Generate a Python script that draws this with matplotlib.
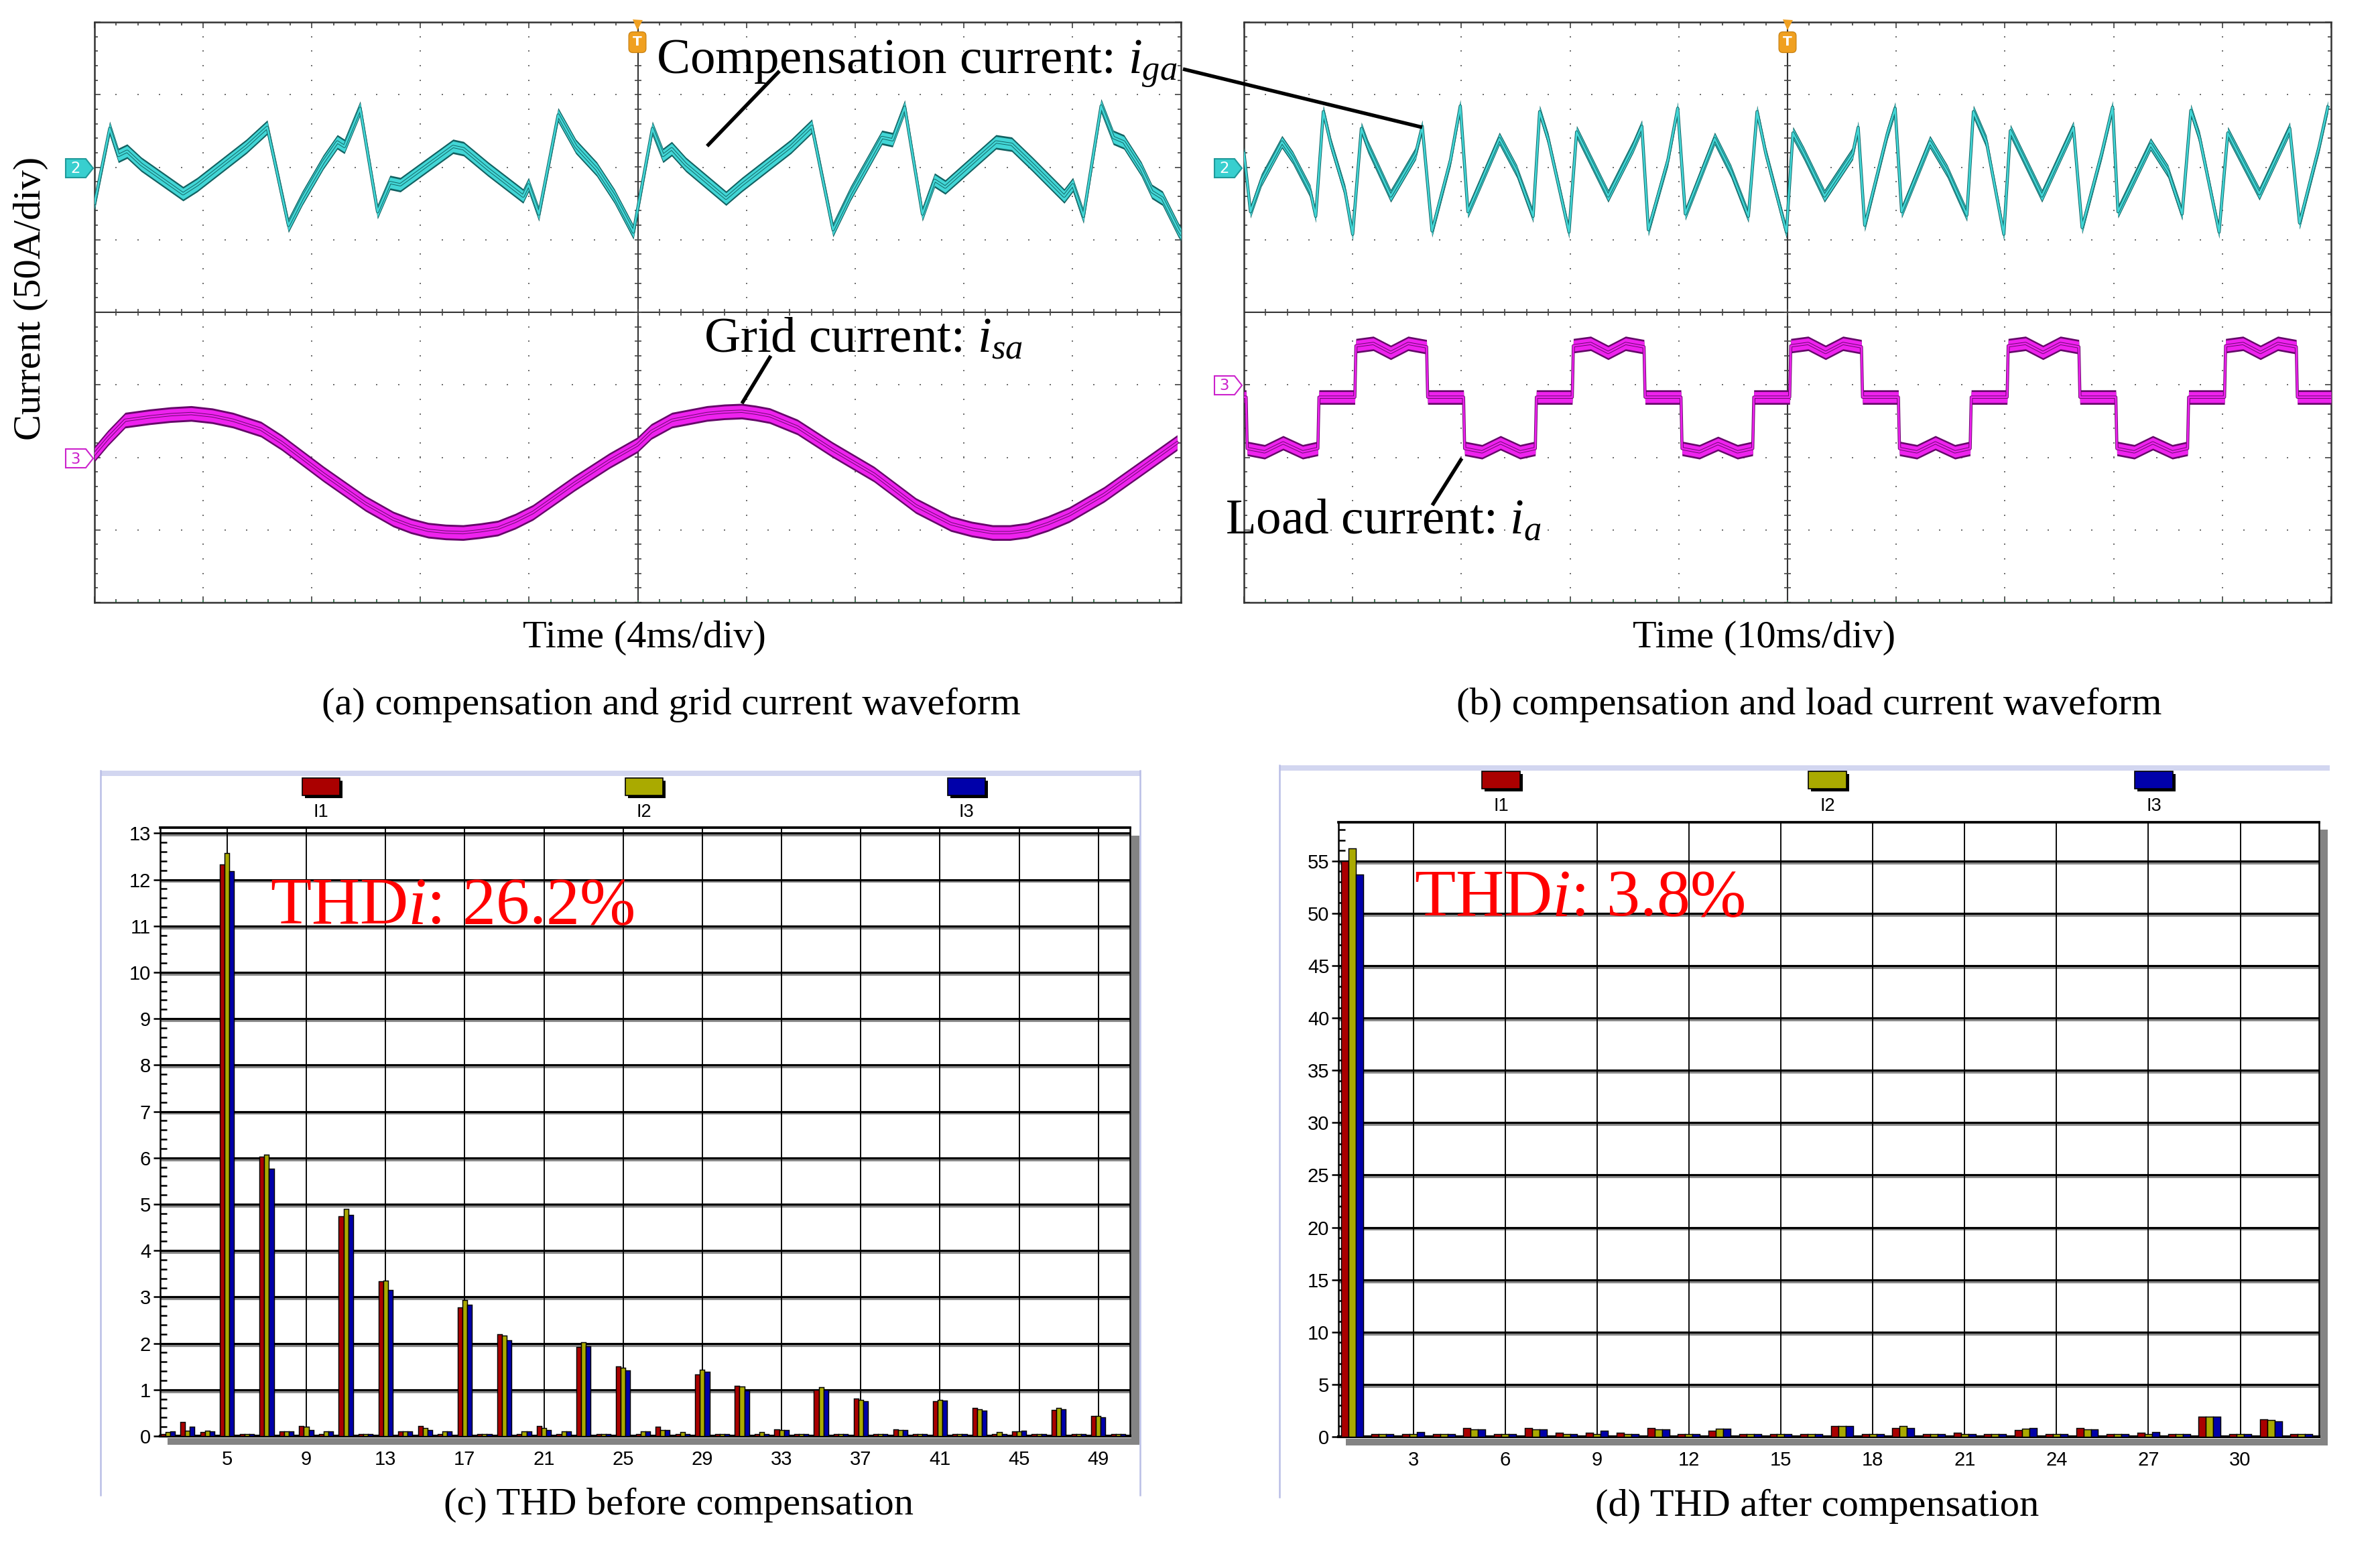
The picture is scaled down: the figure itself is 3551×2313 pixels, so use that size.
import numpy as np
import matplotlib
matplotlib.use("Agg")
import matplotlib.pyplot as plt
from matplotlib.patches import Rectangle, Polygon
from matplotlib.ticker import MultipleLocator
import matplotlib.patheffects as pe

# ---------------------------------------------------------------- data
# (a) 4 ms/div, 50 A/div : compensation current i_ga (time in ms, current in A)
comp_a_t = [0.0, 0.56, 0.88, 1.2, 1.72, 3.26, 3.78, 5.59, 6.36, 7.14, 7.65, 8.42, 8.94, 9.2, 9.78,
            10.42, 10.88, 11.26, 13.2, 13.59, 14.49, 15.78, 15.98, 16.36, 17.07, 17.72, 18.49, 19.14,
            19.84, 20.54, 20.93, 21.25, 21.77, 23.25, 23.83, 25.64, 26.41, 27.19, 27.83, 28.48, 28.99,
            29.38, 29.83, 30.48, 30.93, 31.32, 33.19, 33.77, 34.54, 35.7, 36.02, 36.41, 37.06, 37.51,
            37.9, 38.54, 38.93, 39.32, 39.9, 40.0]
comp_a_i = [-25.0, 26.7, 8.1, 11.0, 2.0, -18.3, -12.1, 14.3, 27.5, -40.1, -21.4, 3.4, 17.4, 14.3, 40.6,
            -30.7, -10.6, -12.1, 14.3, 12.7, -1.3, -19.9, -12.1, -32.3, 36.0, 14.3, -1.3, -19.9,
            -44.7, 26.7, 8.1, 12.7, 1.9, -21.4, -12.1, 14.3, 28.2, -43.1, -18.3, 3.4, 20.5,
            18.9, 41.4, -32.3, -9.0, -13.7, 17.4, 15.8, 1.9, -19.9, -12.1, -33.8, 42.2, 20.5,
            17.4, -1.3, -16.8, -21.4, -43.1, -46.0]

# (a) grid current i_sa
grid_a_t = [0.0, 0.49, 1.13, 2.03, 2.8, 3.56, 4.34, 5.1, 6.13, 6.9, 8.44, 9.98, 11.0, 11.65, 12.29,
            12.93, 13.57, 14.21, 14.85, 15.49, 16.14, 17.68, 18.96, 19.98, 20.5, 21.26, 22.55, 23.19,
            23.83, 24.34, 24.86, 25.88, 27.16, 28.7, 30.24, 31.53, 32.3, 33.07, 33.7, 34.35, 35.1,
            35.89, 37.17, 38.46, 39.86]
grid_a_i = [2.3, 13.2, 25.6, 27.9, 29.4, 30.2, 28.6, 25.6, 19.4, 10.1, -11.6, -31.8, -42.6, -47.2, -50.3,
            -51.5, -51.9, -50.6, -48.8, -44.1, -38.0, -17.8, -2.3, 8.5, 17.8, 25.6, 30.2, 31.3,
            31.8, 30.5, 28.7, 20.9, 5.4, -11.6, -33.3, -45.7, -49.5, -51.9, -51.9, -50.3, -45.7,
            -39.5, -25.6, -8.5, 10.1]

# (b) 10 ms/div : compensation current i_ga
comp_b_t = [0.0, 0.6, 1.6, 3.5, 4.5, 6.1, 6.6, 7.3, 8.0, 9.3, 10.0, 10.8, 11.4, 13.5, 15.8, 16.4, 17.3,
            19.0, 19.9, 20.6, 23.5, 25.1, 26.6, 27.2, 28.0, 29.9, 30.6, 33.5, 35.8, 36.6, 37.2, 39.0,
            39.9, 40.6, 43.3, 44.8, 46.4, 47.2, 48.0, 49.9, 50.5, 51.5, 53.4, 56.0, 56.5, 57.1, 59.2,
            59.9, 60.5, 63.1, 64.7, 66.5, 67.1, 68.3, 69.9, 70.5, 73.4, 76.3, 77.1, 78.9, 79.9, 80.4,
            83.4, 85.0, 86.3, 87.1, 87.9, 89.7, 90.5, 93.4, 96.2, 97.1, 98.9, 99.7]
comp_b_i = [10.0, -30.7, -9.0, 17.4, 6.5, -16.7, -33.8, 38.3, 15.8, -16.7, -46.2, 26.7, 14.3, -19.8, 9.6,
            28.2, -43.9, 5.0, 42.2, -30.7, 19.7, -2.8, -33.8, 38.3, 18.9, -44.7, 24.3, -19.8, 14.3,
            28.2, -43.1, 5.0, 40.6, -32.2, 19.7, -2.8, -33.8, 38.3, 9.6, -44.7, 23.6, 9.6, -19.8, 9.6,
            27.4, -40.0, 23.6, 40.6, -30.7, 17.4, -2.8, -33.0, 38.3, 17.4, -46.2, 25.1, -19.8, 27.4,
            -41.6, 9.6, 41.4, -30.7, 15.8, -2.8, -32.2, 39.1, 20.5, -44.7, 23.6, -18.3, 26.7, -38.4,
            14.3, 41.4]

# (b) load current i_a
load_b_t = [0.0, 0.2, 0.3, 1.9, 3.6, 5.4, 6.8, 6.9, 10.2, 10.3, 11.9, 13.5, 15.1, 16.8, 16.9, 20.2,
            20.3, 21.9, 23.6, 25.4, 26.8, 26.9, 30.2, 30.3, 31.9, 33.5, 35.1, 36.8, 36.9, 40.2,
            40.3, 41.9, 43.6, 45.4, 46.8, 46.9, 50.2, 50.3, 51.9, 53.5, 55.1, 56.8, 56.9, 60.2,
            60.3, 61.9, 63.6, 65.4, 66.8, 66.9, 70.2, 70.3, 71.9, 73.5, 75.1, 76.8, 76.9, 80.2,
            80.3, 81.9, 83.6, 85.4, 86.8, 86.9, 90.2, 90.3, 91.9, 93.5, 95.1, 96.8, 96.9, 100.0]
load_b_i = [-8.5, -8.5, -43.9, -46.2, -40.0, -46.2, -43.9, -8.5, -8.5, 26.9, 28.5, 22.3, 28.5, 26.2, -8.5, -8.5,
            -43.9, -46.2, -40.0, -46.2, -43.9, -8.5, -8.5, 26.9, 28.5, 22.3, 28.5, 26.2, -8.5, -8.5,
            -43.9, -46.2, -40.5, -46.2, -43.9, -8.5, -8.5, 26.9, 28.5, 22.3, 28.5, 26.2, -8.5, -8.5,
            -43.9, -46.2, -40.0, -46.2, -43.9, -8.5, -8.5, 26.9, 28.5, 22.3, 28.5, 26.2, -8.5, -8.5,
            -43.9, -46.2, -40.0, -46.2, -43.9, -8.5, -8.5, 26.9, 28.5, 22.3, 28.5, 26.2, -8.5, -8.5]

# (c) harmonic spectrum before compensation, orders 2..50 (%)
before_orders = list(range(2, 51))
before_I1 = [0.05, 0.30, 0.08, 12.33, 0.05, 6.02, 0.10, 0.22, 0.05, 4.74, 0.05, 3.34, 0.10, 0.22, 0.05,
             2.78, 0.05, 2.20, 0.05, 0.22, 0.05, 1.92, 0.05, 1.50, 0.05, 0.20, 0.05, 1.33, 0.05, 1.08,
             0.05, 0.15, 0.05, 1.00, 0.05, 0.81, 0.05, 0.15, 0.05, 0.75, 0.05, 0.61, 0.05, 0.10, 0.05,
             0.57, 0.05, 0.43, 0.05]
before_I2 = [0.08, 0.12, 0.12, 12.57, 0.05, 6.07, 0.10, 0.20, 0.10, 4.90, 0.05, 3.35, 0.10, 0.17, 0.10,
             2.93, 0.05, 2.17, 0.10, 0.17, 0.10, 2.03, 0.05, 1.47, 0.10, 0.13, 0.08, 1.43, 0.05, 1.07,
             0.08, 0.13, 0.05, 1.05, 0.05, 0.78, 0.05, 0.13, 0.05, 0.78, 0.05, 0.58, 0.08, 0.10, 0.05,
             0.60, 0.05, 0.43, 0.05]
before_I3 = [0.10, 0.20, 0.10, 12.18, 0.05, 5.76, 0.10, 0.13, 0.10, 4.77, 0.05, 3.15, 0.10, 0.13, 0.10,
             2.83, 0.05, 2.07, 0.10, 0.13, 0.10, 1.93, 0.05, 1.41, 0.10, 0.13, 0.05, 1.38, 0.05, 0.98,
             0.05, 0.13, 0.05, 1.00, 0.05, 0.75, 0.05, 0.13, 0.05, 0.77, 0.05, 0.55, 0.05, 0.12, 0.05,
             0.58, 0.05, 0.41, 0.05]
before_xticks = [5, 9, 13, 17, 21, 25, 29, 33, 37, 41, 45, 49]
before_yticks = list(range(0, 14))

# (d) harmonic spectrum after compensation, orders 1..32 (%)
after_orders = list(range(1, 33))
after_I1 = [55.0, 0.25, 0.25, 0.25, 0.85, 0.25, 0.85, 0.40, 0.40, 0.40, 0.85, 0.25, 0.60, 0.25, 0.25, 0.25,
            1.00, 0.25, 0.85, 0.25, 0.40, 0.25, 0.65, 0.25, 0.85, 0.25, 0.40, 0.25, 1.95, 0.25, 1.65, 0.25]
after_I2 = [56.2, 0.25, 0.25, 0.25, 0.70, 0.25, 0.70, 0.25, 0.25, 0.25, 0.70, 0.25, 0.75, 0.25, 0.25, 0.25,
            1.05, 0.25, 1.05, 0.25, 0.25, 0.25, 0.80, 0.25, 0.70, 0.25, 0.25, 0.25, 1.95, 0.25, 1.60, 0.25]
after_I3 = [53.7, 0.25, 0.45, 0.25, 0.70, 0.25, 0.70, 0.25, 0.60, 0.25, 0.70, 0.25, 0.75, 0.25, 0.25, 0.25,
            1.05, 0.25, 0.85, 0.25, 0.25, 0.25, 0.85, 0.25, 0.70, 0.25, 0.45, 0.25, 1.95, 0.25, 1.50, 0.25]
after_xticks = [3, 6, 9, 12, 15, 18, 21, 24, 27, 30]
after_yticks = [0, 5, 10, 15, 20, 25, 30, 35, 40, 45, 50, 55]

series_names = ["I1", "I2", "I3"]

# ---------------------------------------------------------------- style
W, H, DPI = 3551, 2313, 300
plt.rcParams['font.family'] = ['Liberation Serif', 'DejaVu Serif']
plt.rcParams['mathtext.fontset'] = 'custom'
plt.rcParams['mathtext.rm'] = 'Liberation Serif'
plt.rcParams['mathtext.it'] = 'Liberation Serif:italic'

RED, OLIVE, BLUE = '#aa0000', '#aaaa00', '#0000aa'
CY_L, CY_D = '#42d6d6', '#126262'
MG_L, MG_D = '#ee22ee', '#66086a'

fig = plt.figure(figsize=(W / DPI, H / DPI), dpi=DPI)


def rect(x0, y0, x1, y1):
    return [x0 / W, 1 - y1 / H, (x1 - x0) / W, (y1 - y0) / H]


def scope(box):
    g = fig.add_axes(rect(*box))
    g.set_xlim(0, 10)
    g.set_ylim(-4, 4)
    for axis in (g.xaxis, g.yaxis):
        axis.set_major_locator(MultipleLocator(1))
        axis.set_minor_locator(MultipleLocator(0.2))
    g.tick_params(which='both', direction='in', top=True, right=True, labelbottom=False,
                  labelleft=False, color='#555555', width=0.45)
    g.tick_params(which='major', length=2.2)
    g.tick_params(which='minor', length=1.1)
    for s in g.spines.values():
        s.set_color('#333333')
        s.set_linewidth(0.6)
    py = np.arange(-4, 4.001, 0.2)
    px = np.arange(0, 10.001, 0.2)
    for xv in [1, 2, 3, 4, 6, 7, 8, 9]:
        g.plot(np.full(len(py), xv), py, ls='none', marker='s', ms=0.6, mew=0, color='#707070')
    for yv in [-3, -2, -1, 1, 2, 3]:
        g.plot(px, np.full(len(px), yv), ls='none', marker='s', ms=0.6, mew=0, color='#707070')
    g.axvline(5, color='#333333', lw=0.5)
    g.axhline(0, color='#333333', lw=0.5)
    g.plot(np.full(len(py), 5), py, ls='none', marker='_', ms=2.2, mew=0.4, color='#444444')
    g.plot(px, np.zeros(len(px)), ls='none', marker='|', ms=2.2, mew=0.4, color='#444444')
    g.plot(px, np.full(len(px), -3.985), ls='none', marker='s', ms=0.6, mew=0, color='#3a8a5a')
    return g


def channel(box, tmax, ylim):
    c = fig.add_axes(rect(*box))
    c.set_xlim(0, tmax)
    c.set_ylim(*ylim)
    c.axis('off')
    return c


def trace(ax, t, i, half, light, dark):
    t = np.asarray(t, float)
    i = np.asarray(i, float)
    ax.plot(t, i, color=dark, lw=1.1, solid_joinstyle='round')
    ax.fill_between(t, i - half, i + half, color=dark, lw=0)
    ax.fill_between(t, i - half * 0.75, i + half * 0.75, color=light, lw=0)
    ax.plot(t, i, color=light, lw=0.65, solid_joinstyle='round')


# ----- scope (a)
boxA = (141, 33, 1762, 899)
scope(boxA)
a2 = channel(boxA, 40, (-300, 100))
a3 = channel(boxA, 40, (-100, 300))
trace(a2, comp_a_t, comp_a_i, 5.0, CY_L, CY_D)
trace(a3, grid_a_t, grid_a_i, 5.4, MG_L, MG_D)

# ----- scope (b)
boxB = (1856, 33, 3478, 899)
scope(boxB)
b2 = channel(boxB, 100, (-300, 100))
b3 = channel(boxB, 100, (-150, 250))
trace(b2, comp_b_t, comp_b_i, 4.4, CY_L, CY_D)
trace(b3, load_b_t, load_b_i, 5.0, MG_L, MG_D)


# ----- harmonic bar charts
def thd_chart(box, orders, s1, s2, s3, xlim, ylim, xticks, yticks, minor_step):
    ax = fig.add_axes(rect(*box))
    ax.set_xlim(*xlim)
    ax.set_ylim(*ylim)
    o = np.asarray(orders, float)
    w = 0.24
    for off, s, c in ((-w, s1, RED), (0.0, s2, OLIVE), (w, s3, BLUE)):
        ax.bar(o + off, s, width=w, color=c, edgecolor='black', linewidth=0.35, zorder=3)
    ax.set_xticks(xticks)
    ax.set_yticks(yticks)
    ax.yaxis.set_minor_locator(MultipleLocator(minor_step))
    ax.tick_params(axis='y', which='major', direction='inout', length=4.6, width=0.6, pad=1.0,
                   labelsize=7)
    ax.tick_params(axis='y', which='minor', direction='in', length=2.5, width=0.6)
    ax.tick_params(axis='x', which='major', length=0, pad=5.0, labelsize=7)
    for lab in ax.get_xticklabels() + ax.get_yticklabels():
        lab.set_family('Liberation Sans')
    for y in yticks[1:]:
        ax.axhline(y, color='black', lw=0.75, zorder=1,
                   path_effects=[pe.SimpleLineShadow(offset=(0, -0.7), shadow_color='#8a8a8a', alpha=1),
                                 pe.Normal()])
    for x in xticks:
        ax.axvline(x, color='black', lw=0.45, zorder=1)
    ax.spines['left'].set_linewidth(0.6)
    ax.spines['top'].set_linewidth(0.9)
    ax.spines['right'].set_linewidth(0.6)
    ax.spines['bottom'].set_linewidth(1.0)
    return ax


thd_chart((239, 1235, 1686, 2143), before_orders, before_I1, before_I2, before_I3,
          (1.62, 50.6), (0, 13.12), before_xticks, before_yticks, 0.2)
thd_chart((1997, 1227, 3460, 2144), after_orders, after_I1, after_I2, after_I3,
          (0.56, 32.57), (0, 58.7), after_xticks, after_yticks, 1)

# ---------------------------------------------------------------- overlay (pixel coordinates)
ov = fig.add_axes([0, 0, 1, 1])
ov.set_xlim(0, W)
ov.set_ylim(H, 0)
ov.axis('off')


def ch_marker(x0, yc, label, fill, edge, tcolor):
    ov.add_patch(Polygon([(x0, yc - 14), (x0 + 30, yc - 14), (x0 + 41, yc), (x0 + 30, yc + 14), (x0, yc + 14)],
                         closed=True, fc=fill, ec=edge, lw=0.5))
    ov.text(x0 + 15, yc + 1, label, ha='center', va='center', fontsize=5.5, color=tcolor,
            family='DejaVu Sans')


ch_marker(98, 251, '2', '#38cfcf', '#1f9a9a', 'white')
ch_marker(98, 684, '3', 'white', '#cc22cc', '#cc22cc')
ch_marker(1812, 251, '2', '#38cfcf', '#1f9a9a', 'white')
ch_marker(1812, 575, '3', 'white', '#cc22cc', '#cc22cc')

for xt in (951, 2667):
    ov.plot(xt, 37, marker='v', ms=3.6, color='#f0a020', mew=0)
    ov.text(xt, 63, 'T', ha='center', va='center', fontsize=4.8, color='white', weight='bold',
            family='DejaVu Sans',
            bbox=dict(boxstyle='round,pad=0.3', fc='#f0a020', ec='#c88010', lw=0.3))

# waveform annotations
ov.text(979, 109, r'Compensation current: $i_{ga}$', fontsize=18, ha='left', va='baseline')
ov.plot([1163, 1055], [106, 218], color='black', lw=1.3, solid_capstyle='butt')
ov.plot([1765, 2122], [103, 190], color='black', lw=1.3, solid_capstyle='butt')
ov.text(1050, 525, r'Grid current: $i_{sa}$', fontsize=18, ha='left', va='baseline')
ov.plot([1150, 1107], [531, 602], color='black', lw=1.3, solid_capstyle='butt')
ov.text(1828, 796, r'Load current: $i_{a}$', fontsize=18, ha='left', va='baseline')
ov.plot([2181, 2137], [684, 754], color='black', lw=1.3, solid_capstyle='butt')

ov.text(46, 445, 'Current (50A/div)', fontsize=14, rotation=90, ha='center', va='center')
ov.text(961, 952, 'Time (4ms/div)', fontsize=14, ha='center', va='center')
ov.text(2632, 952, 'Time (10ms/div)', fontsize=14, ha='center', va='center')
ov.text(1001, 1052, '(a) compensation and grid current waveform', fontsize=14, ha='center', va='center')
ov.text(2699, 1052, '(b) compensation and load current waveform', fontsize=14, ha='center', va='center')

# bar chart frames, shadows, legends
ov.add_patch(Rectangle((150, 1150), 1551, 8, color='#d2d6f0', lw=0))
ov.plot([150, 150], [1150, 2231], color='#b9bee6', lw=0.6)
ov.plot([1701, 1701], [1150, 2231], color='#b9bee6', lw=0.6)
ov.add_patch(Rectangle((1909, 1142), 1567, 8, color='#d2d6f0', lw=0))
ov.plot([1909, 1909], [1142, 2234], color='#b9bee6', lw=0.6)

ov.add_patch(Rectangle((1688, 1247), 12, 908, color='#848484', lw=0))
ov.add_patch(Rectangle((250, 2146), 1450, 10, color='#848484', lw=0))
ov.add_patch(Rectangle((3462, 1238), 11, 918, color='#848484', lw=0))
ov.add_patch(Rectangle((2008, 2147), 1465, 10, color='#848484', lw=0))


def legend_item(x0, x1, y0, y1, color, label, ly):
    ov.add_patch(Rectangle((x0 + 4, y0 + 4), x1 - x0, y1 - y0, color='black', lw=0))
    ov.add_patch(Rectangle((x0, y0), x1 - x0, y1 - y0, fc=color, ec='black', lw=0.4))
    ov.text((x0 + x1) / 2, ly, label, ha='center', va='center', fontsize=6.5, family='Liberation Sans')


for (x0, x1), col, name in zip([(451, 507), (933, 989), (1414, 1470)], [RED, OLIVE, BLUE], series_names):
    legend_item(x0, x1, 1161, 1187, col, name, 1212)
for (x0, x1), col, name in zip([(2211, 2268), (2698, 2755), (3185, 3242)], [RED, OLIVE, BLUE], series_names):
    legend_item(x0, x1, 1151, 1177, col, name, 1203)

ov.text(403, 1378, r'THD$i$: 26.2%', fontsize=24, color='#ff0000', ha='left', va='baseline')
ov.text(2110, 1366, r'THD$i$: 3.8%', fontsize=24, color='#ff0000', ha='left', va='baseline')

ov.text(1012, 2246, '(c) THD before compensation', fontsize=14, ha='center', va='center')
ov.text(2711, 2248, '(d) THD after compensation', fontsize=14, ha='center', va='center')

fig.savefig('out.png', dpi=DPI)
